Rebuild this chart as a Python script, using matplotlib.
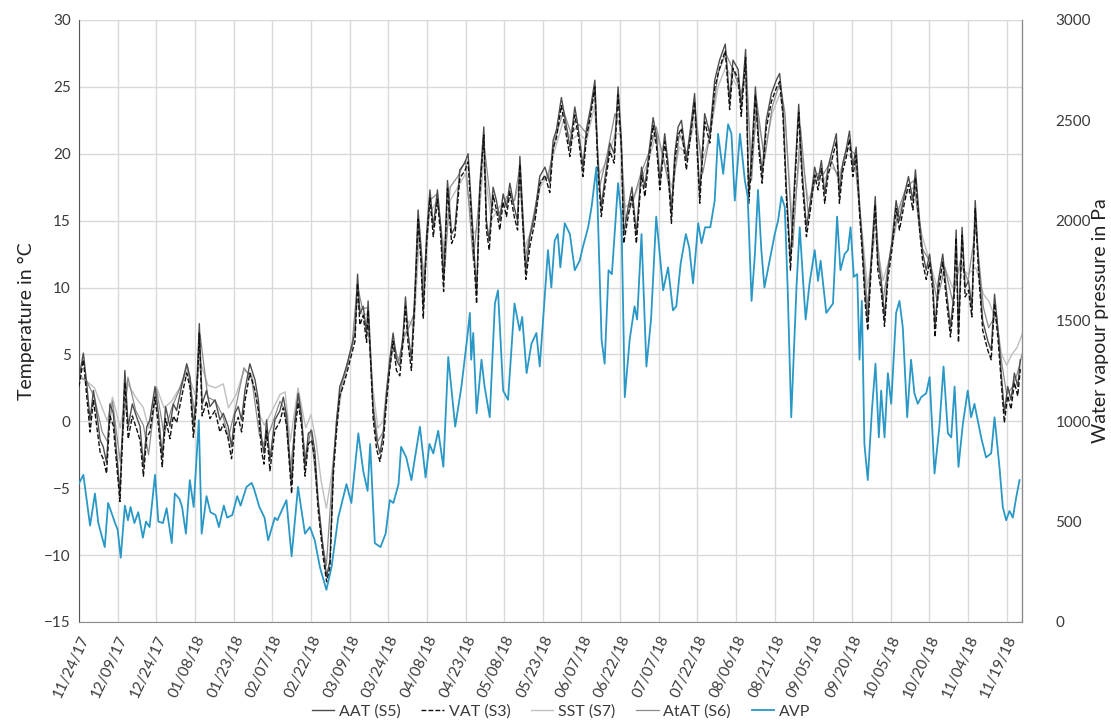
import matplotlib
matplotlib.use("Agg")
import matplotlib.pyplot as plt
import matplotlib.dates as mdates
from matplotlib.ticker import MultipleLocator
import numpy as np
import pandas as pd

plt.rcParams["font.family"] = ["Lato", "DejaVu Sans"]

START = "2017-11-24"

# ---- air / surface temperatures (days since START, degC) ----
aat_day = [
    0.0, 1.7, 3.0, 4.3, 5.6, 6.9, 8.2, 9.4, 10.7, 12.0,
    13.3, 14.6, 15.9, 17.8, 19.1, 20.7, 22.4, 23.7, 25.0, 26.3,
    27.5, 29.5, 30.8, 32.3, 33.6, 35.3, 36.6, 37.9, 39.8, 41.8,
    43.1, 44.4, 45.6, 46.7, 47.8, 49.5, 50.8, 52.8, 54.7, 56.0,
    57.9, 59.2, 60.5, 61.8, 63.1, 64.4, 66.3, 68.3, 69.6, 70.9,
    71.8, 72.8, 74.1, 76.0, 78.0, 79.3, 80.6, 82.5, 83.8, 85.1,
    86.4, 87.7, 89.0, 90.3, 91.5, 92.8, 94.8, 96.1, 97.4, 98.7,
    100.0, 101.2, 102.5, 103.8, 105.8, 107.1, 108.1, 109.0, 110.3, 111.6,
    112.2, 113.3, 114.2, 115.5, 116.8, 118.1, 119.3, 120.6, 121.9, 123.2,
    124.5, 125.8, 126.7, 127.7, 129.0, 130.3, 131.6, 132.7, 133.6, 134.9,
    136.2, 137.5, 139.1, 140.4, 141.5, 143.0, 144.6, 145.9, 147.8, 149.7,
    151.0, 152.3, 154.3, 155.5, 157.1, 158.1, 159.2, 160.7, 162.0, 163.3,
    164.6, 165.9, 167.2, 168.9, 170.2, 171.1, 172.1, 173.4, 175.0, 176.9,
    178.8, 180.8, 182.7, 184.0, 185.3, 187.2, 189.2, 190.5, 192.4, 193.7,
    195.6, 196.9, 198.6, 200.2, 201.4, 202.7, 204.0, 206.0, 207.7, 209.2,
    210.5, 211.4, 213.1, 214.6, 216.3, 218.3, 219.6, 220.8, 222.8, 224.1,
    225.4, 227.3, 228.6, 229.9, 231.2, 232.5, 233.8, 235.7, 237.7, 238.9,
    240.9, 242.8, 244.8, 246.7, 248.6, 250.8, 252.5, 253.8, 255.8, 257.0,
    258.7, 259.9, 261.2, 262.5, 263.8, 265.1, 266.7, 268.7, 270.6, 271.9,
    273.2, 274.5, 276.1, 277.7, 279.3, 280.6, 282.3, 283.9, 285.5, 286.8,
    288.1, 289.4, 290.7, 292.6, 293.9, 295.1, 296.4, 297.7, 299.0, 300.3,
    301.6, 302.9, 304.2, 305.1, 306.1, 307.4, 309.0, 310.0, 311.3, 312.6,
    313.9, 315.4, 317.1, 318.4, 320.4, 321.9, 323.6, 324.6, 326.2, 327.5,
    328.8, 330.1, 331.3, 332.2, 333.5, 335.2, 336.5, 338.2, 339.5, 340.4,
    341.3, 342.7, 343.9, 345.2, 346.5, 347.8, 349.1, 350.7, 352.7, 354.0,
    355.3, 356.8, 357.9, 359.1, 360.4, 361.7, 363.0, 364.3, 365.3,
]
aat_c = [
    3.2, 5.1, 2.8, 0.1, 2.3, 0.6, -1.4, -1.9, -3.1, 1.3,
    0.6, -2.4, -5.4, 3.8, -0.4, 1.3, 0.3, -0.4, -3.4, -0.4,
    0.1, 2.6, 0.6, -2.7, 1.1, -0.4, 1.3, 0.8, 2.6, 4.3,
    3.3, -0.4, 2.1, 7.3, 1.3, 2.3, 1.1, 1.6, 0.1, 0.6,
    -0.4, -1.9, 0.6, 1.1, 0.1, 2.3, 4.3, 3.1, 1.6, -1.4,
    -2.4, 0.1, -2.9, 0.1, 0.8, 1.8, 0.4, -4.7, 0.1, 2.1,
    0.4, -3.4, -0.9, -0.7, -2.2, -5.9, -9.6, -11.6, -10.4, -3.4,
    0.1, 2.6, 3.3, 4.1, 5.6, 6.6, 11.0, 8.0, 8.6, 6.6,
    9.0, 4.6, 0.8, -1.4, -2.4, -0.9, 2.1, 4.6, 6.6, 4.6,
    4.1, 6.6, 9.3, 6.6, 4.6, 9.5, 15.8, 12.8, 8.5, 14.0,
    17.3, 14.5, 17.3, 14.5, 10.5, 18.0, 14.0, 14.5, 18.8, 19.3,
    20.0, 16.0, 9.5, 17.5, 22.0, 15.0, 13.5, 17.5, 16.5, 15.0,
    17.0, 16.0, 17.8, 16.0, 15.0, 19.8, 16.0, 11.3, 13.8, 15.5,
    18.3, 19.0, 17.8, 21.0, 21.8, 24.2, 22.0, 20.5, 23.5, 22.0,
    19.0, 21.8, 23.5, 25.5, 19.3, 16.0, 18.0, 20.8, 20.0, 25.0,
    21.0, 14.0, 16.0, 17.5, 14.0, 19.0, 17.5, 19.5, 22.7, 21.3,
    18.0, 21.5, 19.3, 15.5, 20.0, 22.0, 22.5, 19.5, 22.5, 24.5,
    17.0, 23.0, 21.5, 25.5, 27.0, 28.2, 24.0, 27.0, 26.3, 23.5,
    27.8, 17.0, 20.5, 25.0, 21.0, 18.5, 22.5, 24.5, 25.5, 26.0,
    23.5, 17.5, 12.0, 18.0, 23.7, 18.8, 14.5, 16.5, 19.0, 18.0,
    19.5, 17.0, 19.0, 20.5, 21.5, 17.0, 19.3, 20.3, 21.7, 19.0,
    20.5, 16.3, 12.5, 9.5, 7.5, 12.0, 16.8, 12.0, 10.5, 7.8,
    11.3, 13.3, 16.5, 15.0, 17.0, 18.3, 16.5, 18.8, 15.0, 12.5,
    11.3, 12.5, 10.5, 7.0, 10.5, 12.5, 10.0, 7.0, 9.5, 14.3,
    6.6, 14.5, 10.0, 10.5, 8.5, 16.5, 11.8, 7.5, 6.0, 5.3,
    9.5, 6.5, 3.6, 0.6, 2.6, 1.6, 3.6, 2.6, 4.6,
]
vat_c = [
    2.6, 4.6, 1.9, -0.8, 1.6, -0.4, -2.3, -2.8, -3.9, 0.4,
    -0.3, -3.2, -6.0, 2.9, -1.3, 0.4, -0.6, -1.4, -4.1, -1.2,
    -0.8, 1.8, -0.3, -3.4, 0.2, -1.3, 0.4, -0.1, 1.8, 3.6,
    2.5, -1.2, 1.3, 6.6, 0.4, 1.5, 0.2, 0.8, -0.8, -0.2,
    -1.3, -2.8, -0.3, 0.3, -0.8, 1.5, 3.6, 2.3, 0.8, -2.3,
    -3.2, -0.7, -3.7, -0.7, 0.0, 1.0, -0.4, -5.4, -0.7, 1.4,
    -0.4, -4.1, -1.7, -1.4, -2.9, -6.6, -10.2, -12.0, -10.9, -4.0,
    -0.6, 1.9, 2.6, 3.5, 5.0, 6.0, 10.3, 7.2, 7.9, 5.9,
    8.3, 3.9, 0.1, -2.1, -3.0, -1.6, 1.4, 3.9, 6.0, 3.8,
    3.4, 6.0, 8.6, 5.8, 3.8, 8.8, 15.1, 12.0, 7.7, 13.3,
    16.7, 13.8, 16.6, 13.8, 9.7, 17.4, 13.3, 13.9, 18.2, 18.7,
    19.4, 15.2, 8.8, 16.9, 21.4, 14.3, 12.8, 16.9, 15.8, 14.3,
    16.4, 15.3, 17.2, 15.3, 14.3, 19.2, 15.3, 10.6, 13.1, 14.9,
    17.7, 18.4, 17.1, 20.4, 21.2, 23.6, 21.3, 19.8, 22.9, 21.4,
    18.3, 21.2, 22.9, 25.0, 18.6, 15.3, 17.4, 20.2, 19.3, 24.4,
    20.3, 13.3, 15.3, 16.9, 13.3, 18.4, 16.8, 18.9, 22.1, 20.6,
    17.3, 20.9, 18.6, 14.8, 19.4, 21.4, 21.9, 18.8, 21.9, 23.9,
    16.3, 22.4, 20.8, 24.9, 26.4, 27.7, 23.3, 26.4, 25.6, 22.8,
    27.2, 16.3, 19.8, 24.4, 20.3, 17.8, 21.9, 23.9, 24.9, 25.4,
    22.8, 16.8, 11.3, 17.3, 23.1, 18.1, 13.8, 15.9, 18.4, 17.3,
    18.9, 16.3, 18.4, 19.9, 20.9, 16.3, 18.7, 19.7, 21.1, 18.3,
    19.9, 15.6, 11.8, 8.8, 6.8, 11.3, 16.2, 11.3, 9.8, 7.1,
    10.6, 12.7, 15.9, 14.3, 16.4, 17.7, 15.8, 18.2, 14.3, 11.8,
    10.6, 11.9, 9.8, 6.3, 9.8, 11.9, 9.3, 6.3, 8.8, 13.7,
    5.9, 13.9, 9.3, 9.8, 7.8, 15.9, 11.1, 6.8, 5.3, 4.6,
    8.8, 5.8, 2.9, -0.1, 1.9, 0.9, 2.9, 1.9, 3.9,
]

# soil surface and attic temperatures, coarser sampling
sst_day = [
    0, 3, 6, 9, 11, 13, 16, 19, 22, 25,
    27, 30, 33, 36, 39, 42, 45, 47, 50, 53,
    56, 58, 61, 64, 67, 70, 72, 75, 78, 80,
    82, 85, 88, 90, 92, 94, 96, 98, 100, 102,
    104, 106, 108, 110, 112, 114, 116, 118, 120, 122,
    124, 126, 128, 130, 132, 134, 136, 139, 142, 144,
    147, 150, 153, 155, 157, 160, 163, 166, 169, 171,
    173, 176, 179, 182, 185, 188, 191, 194, 197, 200,
    202, 205, 208, 210, 212, 215, 218, 221, 224, 227,
    230, 233, 236, 239, 242, 245, 248, 251, 254, 257,
    259, 261, 263, 266, 269, 272, 274, 277, 280, 283,
    286, 289, 292, 295, 298, 301, 304, 306, 309, 312,
    315, 318, 321, 324, 327, 330, 333, 336, 339, 342,
    345, 348, 351, 353, 356, 358, 360, 362, 364, 366,
]
sst_c = [
    3.5, 3.0, 2.5, 1.0, 0.0, 1.8, -0.5, 2.8, 1.8, 1.0,
    -0.5, 2.6, 1.0, 1.5, 2.5, 3.8, 2.0, 4.5, 2.7, 2.5,
    2.8, 1.0, 2.0, 3.8, 3.5, 0.5, -0.3, 0.8, 2.0, 2.2,
    -1.5, 2.5, -0.5, 0.5, -1.5, -4.5, -6.5, -4.0, -0.5, 2.5,
    4.0, 5.5, 9.0, 8.0, 8.0, 2.5, -0.5, 0.0, 3.5, 5.5,
    4.5, 6.0, 7.5, 7.0, 13.5, 11.0, 15.5, 16.5, 12.5, 16.5,
    17.5, 18.5, 14.0, 14.5, 19.5, 15.0, 16.0, 16.5, 16.5, 18.0,
    13.0, 14.5, 17.5, 18.5, 20.5, 22.5, 21.0, 21.5, 21.0, 23.5,
    18.5, 19.5, 21.5, 21.5, 16.0, 16.5, 18.0, 19.5, 21.5, 19.5,
    17.5, 20.5, 20.0, 22.5, 19.5, 21.5, 25.0, 26.5, 25.5, 24.5,
    25.5, 19.5, 23.0, 20.0, 23.0, 24.5, 22.5, 14.5, 20.5, 16.5,
    18.0, 18.0, 19.0, 18.5, 20.0, 19.5, 14.0, 10.0, 14.0, 10.5,
    12.5, 15.5, 17.0, 17.5, 14.0, 12.0, 10.0, 11.5, 10.0, 11.5,
    11.0, 11.5, 9.5, 9.0, 7.5, 5.0, 4.2, 5.0, 5.5, 6.5,
]
atat_c = [
    3.3, 3.0, 1.8, -0.8, -1.5, 1.5, -3.0, 3.3, 0.8, -0.3,
    -2.5, 2.5, -1.0, 1.0, 2.4, 4.2, 0.5, 6.5, 1.8, 1.5,
    0.3, -1.2, 1.2, 4.0, 3.2, -1.0, -1.8, -0.2, 1.5, 0.8,
    -3.8, 2.0, -2.8, -0.6, -4.5, -8.5, -10.8, -5.0, 0.3, 2.8,
    4.2, 5.8, 10.2, 8.4, 8.5, 1.5, -1.5, -0.8, 3.2, 6.0,
    4.5, 6.3, 7.0, 8.0, 15.0, 10.0, 16.5, 17.0, 11.5, 17.5,
    18.3, 19.5, 12.0, 16.0, 21.0, 16.0, 15.5, 16.8, 16.5, 19.0,
    12.0, 15.0, 18.0, 18.2, 21.3, 23.2, 21.5, 22.2, 21.5, 24.8,
    17.5, 20.0, 23.0, 22.0, 15.0, 16.5, 18.5, 20.0, 22.0, 19.5,
    16.5, 21.5, 20.0, 23.5, 18.5, 21.5, 26.0, 27.5, 26.2, 24.5,
    26.5, 18.0, 24.0, 19.5, 23.5, 25.3, 23.0, 13.0, 22.0, 15.5,
    18.5, 18.5, 19.5, 18.0, 20.5, 20.0, 13.5, 8.5, 15.5, 9.0,
    12.8, 15.8, 17.5, 18.0, 13.0, 12.0, 9.0, 11.5, 9.0, 12.0,
    10.5, 14.5, 8.5, 7.0, 8.0, 4.5, 2.0, 2.5, 3.5, 5.0,
]

# ---- actual water vapour pressure (days since START, Pa) ----
avp_day = [
    0.0, 1.7, 4.3, 6.2, 7.5, 10.0, 11.3, 14.0, 15.0, 16.2,
    17.8, 19.0, 20.0, 21.5, 23.0, 24.8, 26.0, 27.4, 29.5, 30.8,
    32.6, 34.0, 36.0, 37.2, 39.0, 40.0, 41.5, 43.0, 44.5, 46.5,
    47.6, 49.5, 51.0, 53.0, 54.3, 56.2, 57.5, 59.5, 61.4, 62.7,
    65.0, 67.0, 68.0, 70.0, 72.0, 73.4, 76.0, 77.0, 80.5, 82.5,
    85.0, 87.7, 89.6, 91.5, 93.5, 96.0, 98.0, 100.6, 103.8, 105.7,
    108.4, 110.3, 112.0, 113.0, 114.8, 117.0, 119.0, 120.6, 122.0, 124.0,
    125.0, 127.0, 129.0, 132.3, 134.5, 136.0, 137.5, 139.4, 141.4, 143.3,
    146.0, 148.4, 150.4, 151.7, 152.2, 153.0, 154.3, 156.2, 157.4, 159.4,
    161.4, 162.6, 164.6, 166.5, 169.0, 171.0, 172.0, 173.7, 175.6, 177.5,
    178.8, 180.0, 182.0, 183.3, 184.6, 185.8, 186.8, 188.5, 190.5, 192.4,
    194.3, 195.5, 197.6, 198.9, 200.8, 202.8, 204.0, 205.5, 206.8, 209.2,
    210.5, 211.8, 213.7, 215.6, 216.6, 218.3, 220.2, 222.0, 224.0, 226.7,
    228.6, 230.5, 231.8, 233.5, 235.5, 236.8, 238.3, 240.3, 241.6, 243.0,
    245.0, 246.7, 248.0, 250.0, 251.9, 253.2, 254.5, 256.5, 258.4, 259.5,
    261.0, 262.3, 263.5, 264.8, 266.0, 268.0, 270.0, 271.3, 272.6, 273.9,
    275.0, 276.4, 278.5, 279.7, 281.0, 282.0, 283.5, 285.5, 286.8, 287.8,
    290.0, 292.6, 294.2, 295.5, 297.1, 298.4, 299.4, 300.7, 302.0, 302.9,
    303.8, 304.8, 306.1, 307.7, 309.1, 310.4, 311.3, 312.6, 313.9, 315.2,
    317.1, 318.4, 319.7, 321.4, 322.9, 324.2, 325.5, 326.8, 328.8, 330.1,
    332.0, 333.9, 335.5, 337.2, 338.5, 339.8, 341.3, 343.0, 344.9, 346.2,
    347.5, 350.1, 352.0, 354.0, 355.3, 357.2, 358.5, 359.8, 361.1, 362.4,
    363.7, 365.0,
]
avp_pa = [
    690, 733, 480, 640, 493, 373, 593, 493, 460, 320,
    580, 507, 573, 493, 547, 420, 500, 473, 733, 500,
    493, 567, 393, 640, 613, 573, 440, 707, 573, 1005,
    440, 627, 547, 533, 473, 580, 520, 533, 627, 580,
    673, 693, 660, 573, 520, 407, 520, 507, 607, 327,
    673, 440, 473, 407, 273, 160, 273, 520, 687, 593,
    940, 753, 653, 887, 393, 373, 440, 607, 593, 687,
    873, 820, 707, 973, 720, 887, 840, 953, 773, 1320,
    973, 1173, 1387, 1540, 1307, 1440, 1040, 1307, 1173, 1020,
    1587, 1653, 1153, 1107, 1587, 1453, 1520, 1240, 1387, 1440,
    1273, 1487, 1853, 1667, 1900, 1933, 1767, 1987, 1933, 1753,
    1800, 1867, 1967, 2067, 2267, 1407, 1287, 1753, 1733, 2187,
    2020, 1120, 1407, 1573, 1507, 1933, 1273, 1507, 2020, 1653,
    1767, 1553, 1573, 1787, 1933, 1867, 1687, 1987, 1887, 1967,
    1967, 2100, 2433, 2233, 2480, 2433, 2100, 2433, 2200, 2120,
    1600, 1833, 2153, 1853, 1667, 1800, 1933, 2000, 2120, 2067,
    1667, 1020, 1687, 1967, 1700, 1507, 1687, 1853, 1700, 1800,
    1540, 1587, 2020, 1753, 1833, 1853, 1967, 1720, 1733, 1307,
    1600, 887, 707, 1053, 1287, 920, 1153, 920, 1240, 1087,
    1540, 1600, 1467, 1020, 1307, 1140, 1087, 1120, 1140, 1220,
    740, 973, 1273, 940, 920, 1173, 773, 987, 1153, 1020,
    1087, 920, 820, 840, 1020, 773, 573, 507, 553, 520,
    620, 707,
]

tick_dates = pd.date_range(START, periods=25, freq="15D")
tick_labels = [d.strftime("%m/%d/%y") for d in tick_dates]

t0 = mdates.date2num(pd.Timestamp(START))


def to_x(days):
    return t0 + np.asarray(days, dtype=float)


fig = plt.figure(figsize=(11.11, 7.26), dpi=100)
ax = fig.add_axes([0.0711, 0.1433, 0.8489, 0.8292])
ax2 = ax.twinx()

text_c = "#3a3a3a"
grid_c = "#d9d9d9"

l_sst, = ax.plot(to_x(sst_day), sst_c, color="#bfbfbf", lw=1.0, label="SST (S7)", zorder=2)
l_atat, = ax.plot(to_x(sst_day), atat_c, color="#8c8c8c", lw=0.9, label="AtAT (S6)", zorder=3)
l_aat, = ax.plot(to_x(aat_day), aat_c, color="#4d4d4d", lw=1.0, label="AAT (S5)", zorder=4)
l_vat, = ax.plot(to_x(aat_day), vat_c, color="#111111", lw=1.0, ls=(0, (3.5, 1.5)),
                 label="VAT (S3)", zorder=5)
l_avp, = ax2.plot(to_x(avp_day), avp_pa, color="#2a98c6", lw=1.3, label="AVP", zorder=6)

ax.set_xlim(t0, t0 + 366)
ax.set_ylim(-15, 30)
ax2.set_ylim(0, 3000)
ax.yaxis.set_major_locator(MultipleLocator(5))
ax2.yaxis.set_major_locator(MultipleLocator(500))

ax.set_xticks(mdates.date2num(tick_dates))
ax.set_xticklabels(tick_labels, rotation=65, ha="right", rotation_mode="anchor")
ax.grid(True, color=grid_c, lw=1.0, zorder=0)
ax.set_axisbelow(True)

ax.tick_params(axis="both", length=0, labelsize=11, colors=text_c, pad=6)
ax.tick_params(axis="x", pad=8)
ax2.tick_params(axis="y", length=0, labelsize=11, colors=text_c, pad=24)
for lab in ax2.get_yticklabels():
    lab.set_ha("left")

for a in (ax, ax2):
    a.spines["top"].set_visible(False)
ax.spines["left"].set_color("#555555")
ax.spines["bottom"].set_color("#8a8a8a")
ax2.spines["right"].set_color("#8a8a8a")
ax2.spines["left"].set_visible(False)
ax2.spines["bottom"].set_visible(False)

ax.set_ylabel("Temperature in °C", fontsize=14, color="#222222")
ax.yaxis.set_label_coords(-0.047, 0.5)
ax2.set_ylabel("Water vapour pressure in Pa", fontsize=14, color="#222222",
               rotation=90, va="center")
ax2.yaxis.set_label_coords(1.083, 0.5)

fig.legend(handles=[l_aat, l_vat, l_sst, l_atat, l_avp], loc="lower center",
           bbox_to_anchor=(0.505, -0.01), ncol=5, frameon=False, fontsize=11.5,
           handlelength=1.4, handletextpad=0.3, columnspacing=1.3, labelcolor=text_c)

fig.savefig("out.png", dpi=100)
